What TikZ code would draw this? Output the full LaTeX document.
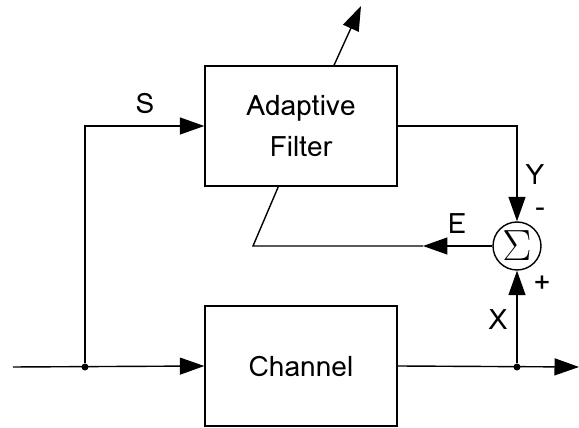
\documentclass[tikz,border=0pt]{standalone}
\usepackage{fontspec}
\setmainfont{Loma}
\usepackage{tikz}
\usetikzlibrary{arrows.meta, positioning, calc}

\begin{document}
\begin{tikzpicture}[
            x=0.02cm, y=-0.02cm,
            >={Triangle[length=4.9mm, width=3.4mm]},
            line width=0.8pt,
            block/.style={draw, line width=0.8pt, minimum width=3.84cm, minimum height=2.4cm, align=center, font=\fontsize{16}{21}\selectfont},
            sumnode/.style={draw, circle, line width=0.8pt, minimum size=0.96cm, inner sep=0pt},
            lbl/.style={inner sep=0pt, font=\fontsize{16}{19}\selectfont},
            junction/.style={circle, fill=black, inner sep=0pt, minimum size=1.4mm}
        ]
        \useasboundingbox (0,0) rectangle (579,428);

        % 1. Blocks and summing point
        \node[block] (filter) at (301,126) {Adaptive\\[0.1cm]Filter};
        \node[block] (channel) at (301,366) {Channel};
        \node[sumnode] (sum) at (517,246) {\fontsize{23}{23}\selectfont$\Sigma$};

        % 2. Branch points and free ends
        \node[junction] (split) at (85,367) {};
        \node[junction] (tap) at (517,367) {};
        \coordinate (in) at (13,367);
        \coordinate (out) at (579,367);
        \coordinate (tunetip) at (361,6);
        \coordinate (ehead) at (423,246);
        \coordinate (ecorner) at (253,246);

        % 3. Signal path through the channel
        \draw[->] (in) -- (channel.west);
        \draw[->] (channel.east) -- (out);

        % 4. Reference input into the filter
        \draw[->] (split) |- (filter.west);

        % 5. Filter output and desired signal into the sum
        \draw[->] (filter.east) -| (sum.north);
        \draw[->] (tap) -- (sum.south);

        % 6. Error fed back to the filter
        \draw[->] (sum.west) -- (ehead);
        \draw (ehead) -- (ecorner) -- ($(filter.south west)+(74,0)$);

        % 7. Adjustment arrow
        \draw[->] ($(filter.north)+(33,0)$) -- (tunetip);

        % 8. Labels
        \node[lbl] (slbl) at (145,103) {S};
        \node[lbl] (ylbl) at (535,175) {Y};
        \node[lbl] (minus) at (540,212) {-};
        \node[lbl] (elbl) at (457,224) {E};
        \node[lbl] (plus) at (542,284) {+};
        \node[lbl] (xlbl) at (498,320) {X};

        \end{tikzpicture}
\end{document}
